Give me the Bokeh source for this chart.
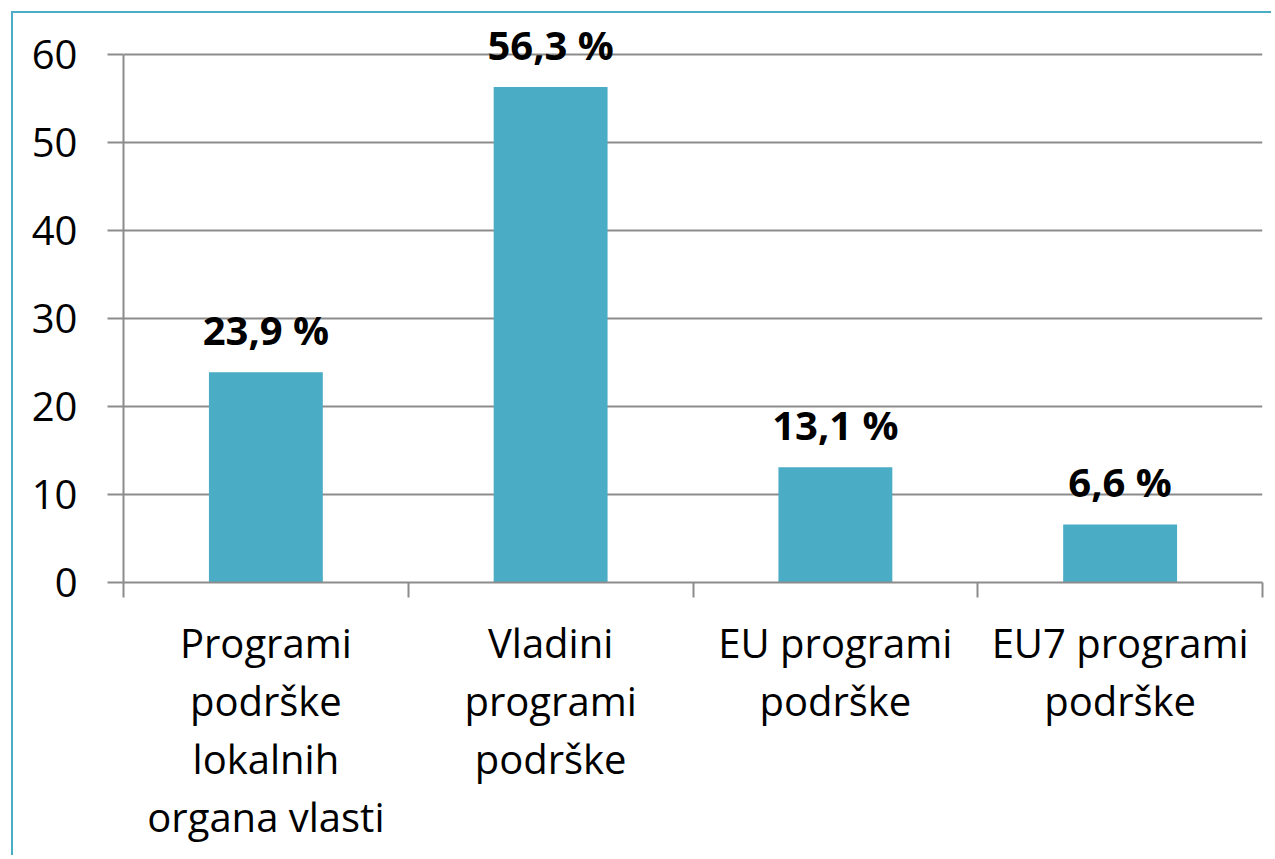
from bokeh.plotting import figure
from bokeh.models import Range1d, FixedTicker, LabelSet, ColumnDataSource
from bokeh.core.properties import value
from bokeh.embed import file_html
from bokeh.resources import INLINE

categories = ["Programi\npodrške\nlokalnih\norgana vlasti",
              "Vladini\nprogrami\npodrške",
              "EU programi\npodrške",
              "EU7 programi\npodrške"]
values = [23.9, 56.3, 13.1, 6.6]
y_ticks = [0, 10, 20, 30, 40, 50, 60]

FONT = "Open Sans"
BAR = "#4BACC6"
GRID = "#8c8c8c"

xs = [i + 0.5 for i in range(len(categories))]
labels = [f"{v:.1f}".replace(".", ",") + " %" for v in values]
src = ColumnDataSource(dict(x=xs, top=values, label=labels))

# extra headroom above 60 so the top data label is not clipped
y_top = 60 * 569 / 528

p = figure(width=1260, height=844, output_backend="svg", toolbar_location=None,
           x_range=Range1d(0, len(categories)), y_range=Range1d(0, y_top),
           min_border_left=110, min_border_top=0, min_border_right=11, min_border_bottom=275)
p.margin = (11, 0, 0, 11)
p.styles = {"border-left": "2px solid #4BACC6", "border-top": "2px solid #4BACC6"}
p.outline_line_color = None
p.background_fill_color = "white"
p.border_fill_color = "white"

p.vbar(x="x", top="top", width=0.4, source=src, fill_color=BAR, line_color=None)

p.add_layout(LabelSet(x="x", y="top", text="label", source=src, text_align="center",
                      text_baseline="alphabetic", y_offset=27,
                      text_font=value(FONT), text_font_style="bold", text_font_size="40px",
                      text_color="black"))

p.xgrid.grid_line_color = None
p.ygrid.grid_line_color = GRID
p.ygrid.grid_line_width = 2
p.ygrid.ticker = FixedTicker(ticks=y_ticks)

p.yaxis.ticker = FixedTicker(ticks=y_ticks, minor_ticks=[])
p.yaxis.bounds = (y_ticks[0], y_ticks[-1])
p.yaxis.axis_line_color = GRID
p.yaxis.axis_line_width = 2
p.yaxis.major_tick_line_color = GRID
p.yaxis.major_tick_line_width = 2
p.yaxis.major_tick_in = 0
p.yaxis.major_tick_out = 16
p.yaxis.minor_tick_line_color = None
p.yaxis.major_label_standoff = 30
p.yaxis.major_label_text_font = FONT
p.yaxis.major_label_text_font_size = "40px"
p.yaxis.major_label_text_color = "black"

p.xaxis.ticker = FixedTicker(ticks=xs, minor_ticks=list(range(len(categories) + 1)))
p.xaxis.major_label_overrides = {x: c for x, c in zip(xs, categories)}
p.xaxis.axis_line_color = GRID
p.xaxis.axis_line_width = 2
p.xaxis.major_tick_line_color = None
p.xaxis.major_tick_in = 0
p.xaxis.major_tick_out = 0
p.xaxis.minor_tick_line_color = GRID
p.xaxis.minor_tick_line_width = 2
p.xaxis.minor_tick_in = 0
p.xaxis.minor_tick_out = 15
p.xaxis.major_label_standoff = 17
p.xaxis.major_label_text_font = FONT
p.xaxis.major_label_text_font_size = "40px"
p.xaxis.major_label_text_color = "black"
p.xaxis.major_label_text_line_height = 1.055

open("out.html", "w").write(file_html(p, INLINE))
